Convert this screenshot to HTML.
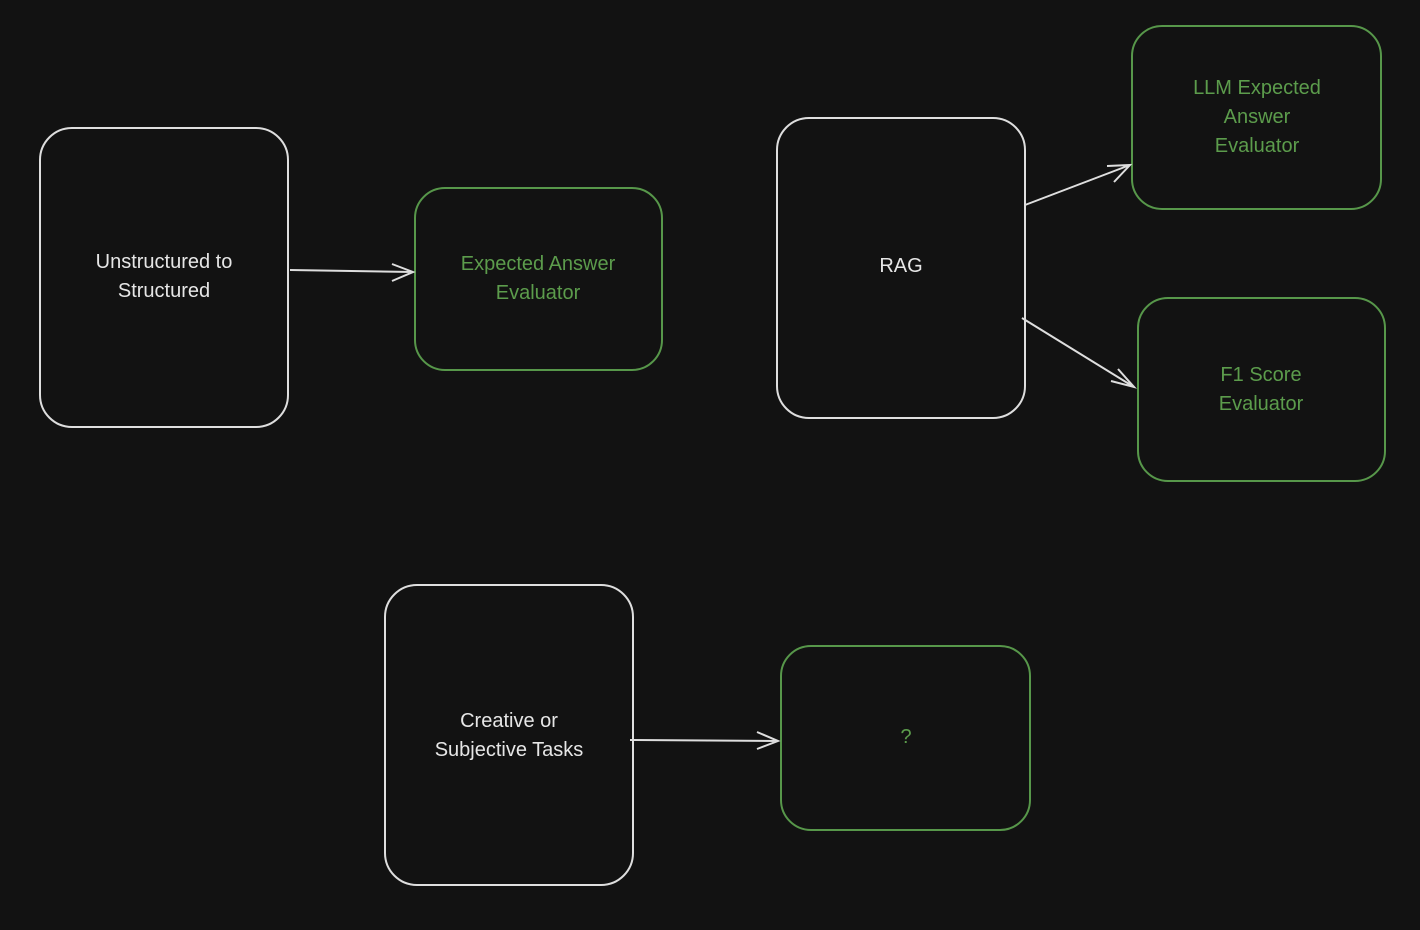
<!DOCTYPE html>
<html><head><meta charset="utf-8"><style>
html,body{margin:0;padding:0;background:#121212;}
svg{display:block;}
text{font-family:"Liberation Sans",sans-serif;font-size:20px;text-anchor:middle;}
.w{fill:none;stroke:#dedede;stroke-width:2;}
.g{fill:none;stroke:#57974a;stroke-width:2;}
.tw{fill:#e6e6e6;}
.tg{fill:#5c9c4c;}
</style></head><body>
<svg width="1420" height="930" viewBox="0 0 1420 930">
<rect x="0" y="0" width="1420" height="930" fill="#121212"/>
<rect class="w" x="40" y="128" width="248" height="299" rx="32"/>
<rect class="g" x="415" y="188" width="247" height="182" rx="30"/>
<rect class="w" x="777" y="118" width="248" height="300" rx="32"/>
<rect class="g" x="1132" y="26" width="249" height="183" rx="30"/>
<rect class="g" x="1138" y="298" width="247" height="183" rx="30"/>
<rect class="w" x="385" y="585" width="248" height="300" rx="32"/>
<rect class="g" x="781" y="646" width="249" height="184" rx="30"/>

<g class="w">
<path d="M290 270 L413 272 M392 264 L413 272 L392 281"/>
<path d="M1025 205 L1130 165 M1107 166 L1130 165 L1114 182"/>
<path d="M1022 318 L1134 387 M1118 369 L1134 387 L1111 381"/>
<path d="M630 740 L778 741 M757 732 L778 741 L757 749"/>
</g>

<text class="tw" x="164" y="268">Unstructured to</text>
<text class="tw" x="164" y="297">Structured</text>
<text class="tg" x="538" y="270">Expected Answer</text>
<text class="tg" x="538" y="299">Evaluator</text>
<text class="tw" x="901" y="272">RAG</text>
<text class="tg" x="1257" y="94">LLM Expected</text>
<text class="tg" x="1257" y="123">Answer</text>
<text class="tg" x="1257" y="152">Evaluator</text>
<text class="tg" x="1261" y="381">F1 Score</text>
<text class="tg" x="1261" y="410">Evaluator</text>
<text class="tw" x="509" y="727">Creative or</text>
<text class="tw" x="509" y="756">Subjective Tasks</text>
<text class="tg" x="906" y="743">?</text>
</svg>
</body></html>
